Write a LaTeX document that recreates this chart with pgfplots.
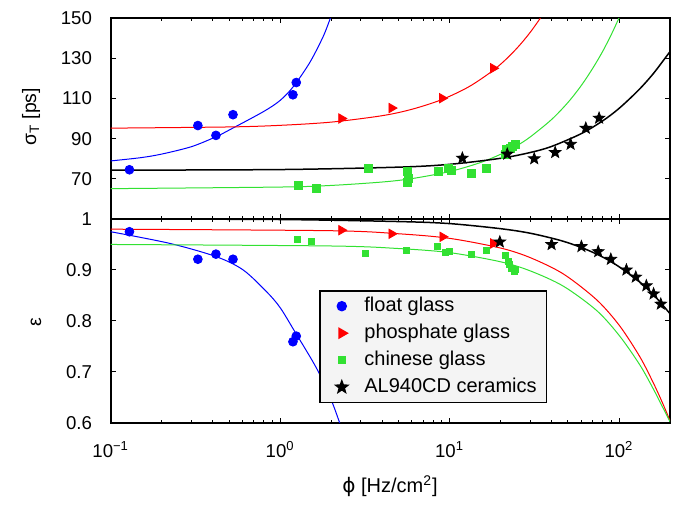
\documentclass[border=0pt]{standalone}
\usepackage{pgfplots}
\pgfplotsset{compat=1.18}
\usepackage{fontspec}
\setmainfont{Liberation Sans}
\newfontfamily\dejavu{DejaVu Sans}
\definecolor{cblue}{RGB}{0,0,255}
\definecolor{cred}{RGB}{255,0,0}
\definecolor{cgreen}{RGB}{50,225,50}
\definecolor{lgbg}{RGB}{244,244,244}
\pgfdeclareplotmark{fstar}{%
  \pgfpathmoveto{\pgfpointpolar{90}{\pgfplotmarksize}}%
  \pgfpathlineto{\pgfpointpolar{126}{0.42\pgfplotmarksize}}%
  \pgfpathlineto{\pgfpointpolar{162}{\pgfplotmarksize}}%
  \pgfpathlineto{\pgfpointpolar{198}{0.42\pgfplotmarksize}}%
  \pgfpathlineto{\pgfpointpolar{234}{\pgfplotmarksize}}%
  \pgfpathlineto{\pgfpointpolar{270}{0.42\pgfplotmarksize}}%
  \pgfpathlineto{\pgfpointpolar{306}{\pgfplotmarksize}}%
  \pgfpathlineto{\pgfpointpolar{342}{0.42\pgfplotmarksize}}%
  \pgfpathlineto{\pgfpointpolar{18}{\pgfplotmarksize}}%
  \pgfpathlineto{\pgfpointpolar{54}{0.42\pgfplotmarksize}}%
  \pgfpathclose
  \pgfusepathqfillstroke}
\begin{document}
\begin{tikzpicture}
\useasboundingbox (0,0) rectangle (340pt,252.5pt);
% ---------------- top panel ----------------
\begin{axis}[at={(55.35pt,143pt)}, anchor=south west,
  scale only axis, width=279.65pt, height=100.5pt,
  xmode=log, xmin=0.1, xmax=200, xtick={0.1,1,10,100},
  ymin=50, ymax=150, ytick={70,90,110,130,150}, xticklabel=\empty,
  axis line style={line width=1pt}, tick align=inside,
  major tick length=2.6pt, minor tick length=1.4pt,
  every tick/.style={black, line width=0.5pt},
  ticklabel style={font=\fontsize{9.3}{11}\selectfont},
  /pgf/number format/assume math mode=true,
  yticklabel style={anchor=east, inner sep=0pt, xshift=-9.2pt}]
% fit curves
\addplot[cblue, line width=0.5pt, smooth] coordinates {
(0.1,78.9)(0.15,80.5)(0.2,82.3)(0.3,86)(0.42,91)(0.52,95)(0.8,103.5)(1.0,109)(1.2,116)(1.5,128)(1.8,141)(2.0,151)};
\addplot[cred, line width=0.5pt, smooth] coordinates {
(0.1,95.2)(0.5,95.8)(1,96.6)(2,98.2)(4,101.4)(6,104.6)(9,109.4)(13,115.8)(18,123.8)(22,130.2)(26,136.6)(30,143)(34,149.4)(35.5,151.8)};
\addplot[cgreen, line width=0.5pt, smooth] coordinates {
(0.1,65.1)(1,65.9)(2,66.7)(4,68.4)(6,70.1)(10,73.6)(15,77.9)(20,82.2)(25,86.5)(30,90.9)(40,99.5)(50,108)(60,116.5)(70,125)(80,133.3)(90,141.7)(100,150)(102,151.7)};
\addplot[black, line width=0.75pt, smooth] coordinates {
(0.1,74.3)(1,74.6)(5,75.8)(10,77.2)(20,80.2)(30,83.1)(40,86.1)(60,92.5)(80,98.8)(100,105)(130,114)(160,122.5)(200,133.3)};
% data
\addplot[only marks, mark=*, mark size=2.2pt, draw=cblue, fill=cblue] coordinates {(0.129,74.5)(0.327,96.5)(0.418,91.6)(0.527,101.9)(1.19,111.8)(1.245,117.9)};
\addplot[only marks, mark=triangle*, mark size=2.7pt, draw=cred, fill=cred, mark options={rotate=-90}] coordinates {(2.3,100)(4.55,105.2)(9.04,110.1)(18.1,125)};
\addplot[only marks, mark=square*, mark size=2pt, draw=cgreen, fill=cgreen] coordinates {(1.28,66.7)(1.63,65.2)(3.3,75.2)(5.6,73.6)(5.7,70.2)(5.65,68.2)(8.6,73.6)(9.8,75.3)(10.2,74.1)(13.4,72.5)(16.6,75.3)(21.3,81.9)(21.6,84.8)(22.9,85.3)(23.6,86.2)(24.3,86.9)};
\addplot[only marks, mark=fstar, mark size=3pt, draw=black, fill=black] coordinates {(11.9,80.3)(21.9,82.3)(31.6,80)(42,83.1)(51.8,87.2)(63.7,95.2)(76.3,100.2)};
\end{axis}
% ---------------- bottom panel ----------------
\begin{axis}[at={(55.35pt,41.15pt)}, anchor=south west,
  scale only axis, width=279.65pt, height=101.85pt,
  xmode=log, xmin=0.1, xmax=200, xtick={0.1,1,10,100},
  ymin=0.6, ymax=1, ytick={0.6,0.7,0.8,0.9,1},
  axis line style={line width=1pt}, tick align=inside,
  major tick length=2.6pt, minor tick length=1.4pt,
  every tick/.style={black, line width=0.5pt},
  ticklabel style={font=\fontsize{9.3}{11}\selectfont},
  /pgf/number format/assume math mode=true,
  yticklabel style={anchor=east, inner sep=0pt, xshift=-9.2pt},
  xticklabels={10\textsuperscript{−1},10\textsuperscript{0},10\textsuperscript{1},10\textsuperscript{2}},
  xticklabel style={anchor=base, inner sep=0pt, yshift=-17.6pt},
  legend style={at={(0.3724,0.651)}, anchor=north west, draw=black, line width=0.8pt,
    fill=lgbg, font=\fontsize{10}{12}\selectfont, inner xsep=5pt, inner ysep=3pt,
    row sep=4.2pt, column sep=5.3pt,
    nodes={inner sep=0pt, text height=7.3pt, text depth=2pt}},
  legend cell align=left,
  legend image code/.code={\path[draw=none, fill=none] (0pt,-2pt) rectangle (12pt,2pt); \draw[#1] plot coordinates {(6pt,0pt)};},
  ]
\addplot[cblue, line width=0.5pt, smooth, forget plot] coordinates {
(0.1,0.975)(0.224,0.952)(0.42,0.926)(0.605,0.900)(0.833,0.857)(1.0,0.826)(1.22,0.779)(1.64,0.707)(2.0,0.645)(2.25,0.599)(2.35,0.58)};
\addplot[cred, line width=0.5pt, smooth, forget plot] coordinates {
(0.1,0.980)(2,0.977)(5,0.971)(10,0.962)(20,0.943)(30,0.924)(47,0.892)(74,0.841)(101,0.790)(133,0.729)(159,0.679)(180,0.640)(200,0.604)};
\addplot[cgreen, line width=0.5pt, smooth, forget plot] coordinates {
(0.1,0.950)(2,0.947)(5,0.942)(10,0.934)(20,0.916)(30,0.898)(47,0.868)(74,0.820)(101,0.770)(133,0.713)(159,0.667)(180,0.632)(200,0.602)};
\addplot[black, line width=0.75pt, smooth, forget plot] coordinates {
(0.1,1.0)(1,0.999)(5,0.995)(10,0.991)(20,0.981)(30,0.972)(45,0.958)(60,0.944)(75,0.930)(90,0.916)(110,0.897)(133,0.876)(160,0.851)(180,0.832)(200,0.814)};
\addplot[only marks, mark=*, mark size=2.2pt, draw=cblue, fill=cblue] coordinates {(0.129,0.975)(0.327,0.921)(0.418,0.931)(0.527,0.921)(1.19,0.759)(1.245,0.770)};
\addlegendentry{float glass}
\addplot[only marks, mark=triangle*, mark size=2.7pt, draw=cred, fill=cred, mark options={rotate=-90}] coordinates {(2.3,0.978)(4.55,0.971)(9.1,0.965)(18.1,0.952)};
\addlegendentry{phosphate glass}
\addplot[only marks, mark=square*, mark size=1.5pt, draw=cgreen, fill=cgreen] coordinates {(1.26,0.960)(1.53,0.957)(3.2,0.933)(5.55,0.939)(8.5,0.947)(9.5,0.934)(10,0.937)(13.4,0.931)(16.5,0.939)(21.3,0.929)(22.3,0.916)(22.7,0.910)(23.2,0.903)(24.2,0.898)(24.5,0.902)};
\addlegendentry{chinese glass}
\addplot[only marks, mark=fstar, mark size=3pt, draw=black, fill=black] coordinates {(19.8,0.955)(40,0.950)(60,0.946)(75.4,0.936)(89.5,0.921)(110.6,0.900)(125.6,0.886)(145,0.869)(160,0.853)(176.5,0.833)};
\addlegendentry{AL940CD ceramics}
\end{axis}
\node[rotate=90, font=\fontsize{9.7}{11}\selectfont] at (15.5pt,194pt) {σ\textsubscript{T} [ps]};
\node[rotate=90, font=\fontsize{9.7}{11}\selectfont] at (18pt,91.5pt) {ε};
\node[font=\fontsize{10}{12}\selectfont] at (195pt,9.5pt) {{\dejavu ϕ} [Hz/cm\textsuperscript{2}]};
\end{tikzpicture}
\end{document}
